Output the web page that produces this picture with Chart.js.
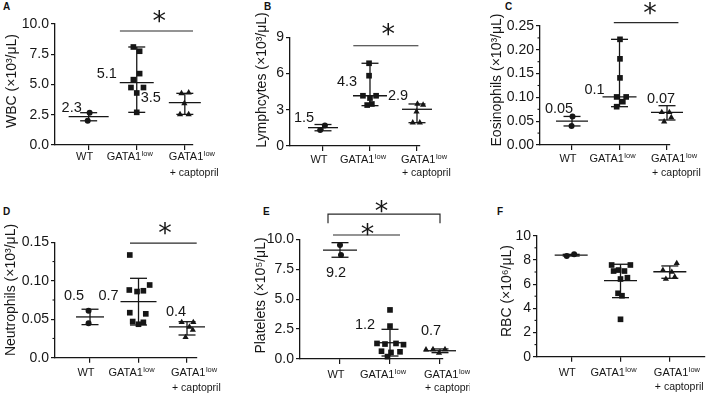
<!DOCTYPE html>
<html><head><meta charset="utf-8">
<script src="https://cdn.jsdelivr.net/npm/chart.js@4.4.1/dist/chart.umd.min.js"></script>
<style>
html,body{margin:0;padding:0;background:#fff}
body{width:709px;height:393px;position:relative;overflow:hidden;font-family:"Liberation Sans",Arial,sans-serif}
.panel{position:absolute}
.panel canvas{display:block}
.letter{position:absolute;font-weight:bold;font-size:10px;line-height:12px;color:#111}
</style></head><body>
<div class="letter" style="left:3px;top:1px">A</div>
<div class="letter" style="left:264px;top:1px">B</div>
<div class="letter" style="left:505px;top:1px">C</div>
<div class="letter" style="left:3px;top:206px">D</div>
<div class="letter" style="left:263px;top:206px">E</div>
<div class="letter" style="left:497px;top:206px">F</div>
<div class="panel" style="left:0px;top:0px"><canvas id="cA" width="235" height="195"></canvas></div>
<div class="panel" style="left:235px;top:0px"><canvas id="cB" width="235" height="195"></canvas></div>
<div class="panel" style="left:470px;top:0px"><canvas id="cC" width="239" height="195"></canvas></div>
<div class="panel" style="left:0px;top:195px"><canvas id="cD" width="235" height="198"></canvas></div>
<div class="panel" style="left:235px;top:195px"><canvas id="cE" width="235" height="198"></canvas></div>
<div class="panel" style="left:470px;top:195px"><canvas id="cF" width="239" height="198"></canvas></div>
<script>
// ---- categories ----
const groupMain  = ['WT', 'GATA1', 'GATA1'];
const groupSup   = ['', 'low', 'low'];
const groupLine2 = ['', '', '+ captopril'];

// ---- A: WBC (x10^3/uL) ----
const wbc       = [[2.67, 2.0], [8.1, 7.75, 5.9, 5.4, 4.75, 4.75, 4.3, 2.7], [4.27, 4.33, 3.44, 2.53, 2.53]];
const wbcJitter = [[0.02, -0.02], [-0.07, 0.06, 0.06, -0.07, -0.12, 0.14, 0, 0], [-0.07, 0.08, -0.01, -0.1, 0.08]];
const wbcMean   = [2.34, 5.15, 3.5];
const wbcLow    = [2.0, 2.7, 2.53];
const wbcHigh   = [2.67, 8.1, 4.27];
const wbcLabels = ['2.3', '5.1', '3.5'];

// ---- B: Lymphocytes ----
const lym       = [[1.69, 1.33], [6.85, 5.82, 4.16, 3.97, 4.16, 3.39, 3.48], [3.48, 3.4, 2.85, 1.93, 1.93]];
const lymJitter = [[0.04, -0.06], [-0.02, -0.02, -0.15, 0, 0.13, -0.06, 0.04], [0.01, 0.13, -0.01, -0.09, 0.06]];
const lymMean   = [1.52, 4.16, 3.04];
const lymLow    = [1.26, 3.34, 1.93];
const lymHigh   = [1.78, 6.85, 3.48];
const lymLabels = ['1.5', '4.3', '2.9'];

// ---- C: Eosinophils ----
const eos       = [[0.060, 0.040], [0.222, 0.181, 0.141, 0.101, 0.101, 0.091, 0.0805], [0.0826, 0.0687, 0.0687, 0.058, 0.049]];
const eosJitter = [[0.01, -0.01], [0.01, 0.01, 0.01, -0.06, 0.14, 0.07, -0.06], [0.16, -0.11, 0.05, 0.09, -0.06]];
const eosMean   = [0.050, 0.101, 0.0687];
const eosLow    = [0.040, 0.0805, 0.0525];
const eosHigh   = [0.060, 0.222, 0.0826];
const eosLabels = ['0.05', '0.1', '0.07'];

// ---- D: Neutrophils ----
const neu       = [[0.0611, 0.0447], [0.1335, 0.0945, 0.088, 0.086, 0.087, 0.0585, 0.057, 0.047, 0.046, 0.0435], [0.046, 0.046, 0.040, 0.036, 0.0265]];
const neuJitter = [[-0.03, -0.03], [-0.18, 0.23, -0.19, -0.03, 0.1, -0.18, 0.15, -0.12, 0.1, 0], [-0.11, 0.13, 0.05, 0.12, -0.03]];
const neuMean   = [0.053, 0.0728, 0.040];
const neuLow    = [0.043, 0.0425, 0.0295];
const neuHigh   = [0.063, 0.1032, 0.0468];
const neuLabels = ['0.5', '0.7', '0.4'];

// ---- E: Platelets (x10^5/uL) ----
const plt       = [[9.53, 8.69], [4.1, 2.75, 1.3, 1.25, 1.3, 1.2, 0.65, 0.55, 0.6, 0.2], [0.78, 0.8, 0.8, 0.78, 0.5]];
const pltJitter = [[0, 0.02], [0, 0, -0.26, -0.1, 0.12, 0.27, -0.17, 0.02, 0.2, -0.05], [-0.28, -0.14, 0.1, 0.26, -0.02]];
const pltMean   = [9.1, 1.36, 0.69];
const pltLow    = [8.5, 0.25, 0.53];
const pltHigh   = [9.72, 2.48, 0.84];
const pltLabels = ['9.2', '1.2', '0.7'];

// ---- F: RBC (x10^6/uL) ----
const rbc       = [[8.32, 8.46], [7.58, 7.58, 7.08, 7.16, 7.08, 6.42, 6.53, 5.24, 5.04, 3.09], [7.72, 7.15, 7.0, 6.42, 6.6]];
const rbcJitter = [[-0.09, 0.06], [-0.18, 0.2, -0.14, -0.04, 0.08, 0, 0.14, -0.05, 0.03, 0], [0.14, -0.14, 0.04, -0.08, 0.1]];
const rbcMean   = [8.39, 6.28, 7.02];
const rbcLow    = [8.32, 4.88, 6.48];
const rbcHigh   = [8.46, 7.64, 7.5];
const rbcLabels = ['', '', ''];

const FONT = '"Liberation Sans", Arial, Helvetica, sans-serif';
const INK = '#161616';

const fmt1 = v => v.toFixed(1);
const fmt0 = v => v.toFixed(0);
const fmt2 = v => v.toFixed(2);
const fmtD = v => v === 0 ? '0.0' : v.toFixed(2);

const panels = [
  {id:'cA', box:{l:0,t:0,w:235,h:195}, area:{l:55,t:24,r:193,b:145},
   title:'WBC (×10³/μL)', titleC:[11.7,81], yMax:10, step:2.5, fmt:fmt1, xMin:0.3, xMax:3.17,
   values:wbc, jitter:wbcJitter, mean:wbcMean, low:wbcLow, high:wbcHigh, labels:wbcLabels,
   labelOff:[[-17,-9],[-30,-9],[-34,-5]], meanHalf:[20,17,16], lab:[12,28], minor:false,
   sig:[{x1:1.65,x2:3.17,y:9.42,sx:2.47,sy:10.74}]},
  {id:'cB', box:{l:235,t:0,w:235,h:195}, area:{l:290,t:37.3,r:420,b:146},
   title:'Lymphcytes (×10³/μL)', titleC:[261.7,80], yMax:9, step:3, fmt:fmt0, xMin:0.298, xMax:3.064,
   values:lym, jitter:lymJitter, mean:lymMean, low:lymLow, high:lymHigh, labels:lymLabels,
   labelOff:[[-19,-10],[-23,-14],[-19,-13]], meanHalf:[15,17,15], lab:[14,27], minor:false,
   sig:[{x1:1.645,x2:3.03,y:8.3,sx:2.39,sy:9.74}]},
  {id:'cC', box:{l:470,t:0,w:239,h:195}, area:{l:540,t:26,r:670,b:145},
   title:'Eosinophils (×10³/μL)', titleC:[497.5,80], yMax:0.25, step:0.05, fmt:fmt2, xMin:0.326, xMax:3.063,
   values:eos, jitter:eosJitter, mean:eosMean, low:eosLow, high:eosHigh, labels:eosLabels,
   labelOff:[[-13,-12],[-25,-7],[-6,-13]], meanHalf:[16,17,16], lab:[14,28], minor:true,
   sig:[{x1:1.88,x2:3.24,y:0.257,sx:2.64,sy:0.29}]},
  {id:'cD', box:{l:0,t:195,w:235,h:198}, area:{l:55,t:242.3,r:197,b:357.7},
   title:'Neutrophils (×10³/μL)', titleC:[11,290], yMax:0.15, step:0.05, fmt:fmtD, xMin:0.278, xMax:3.206,
   values:neu, jitter:neuJitter, mean:neuMean, low:neuLow, high:neuHigh, labels:neuLabels,
   labelOff:[[-16,-21],[-30,-6],[-11,-15]], meanHalf:[14,18,18], lab:[15.5,30], minor:true,
   sig:[{x1:1.824,x2:3.2,y:0.1488,sx:2.546,sy:0.1704}]},
  {id:'cE', box:{l:235,t:195,w:235,h:198}, area:{l:300,t:239.3,r:443,b:359},
   title:'Platelets (×10⁵/μL)', titleC:[261,295.5], yMax:10, step:2.5, fmt:fmt1, xMin:0.2, xMax:3.06,
   values:plt, jitter:pltJitter, mean:pltMean, low:pltLow, high:pltHigh, labels:pltLabels,
   labelOff:[[-4,23],[-25,-18],[-9,-20]], meanHalf:[17,15,16], lab:[16,29], minor:false,
   sig:[{x1:0.76,x2:3.0,y:12.1,drop:11.35,sx:1.83,sy:12.87},{x1:0.86,x2:2.2,y:10.36,sx:1.55,sy:10.97}]},
  {id:'cF', box:{l:470,t:195,w:239,h:198}, area:{l:537,t:235.7,r:709,b:356.7},
   title:'RBC (×10⁶/μL)', titleC:[506.7,291], yMax:10, step:2, fmt:fmt0, xMin:0.307, xMax:3.713,
   values:rbc, jitter:rbcJitter, mean:rbcMean, low:rbcLow, high:rbcHigh, labels:rbcLabels,
   labelOff:[[0,0],[0,0],[0,0]], meanHalf:[16.5,16.5,16.5], lab:[16.5,30], minor:true,
   sig:[]}
];

function seg(ctx, x1, y1, x2, y2) {
  ctx.beginPath(); ctx.moveTo(x1, y1); ctx.lineTo(x2, y2); ctx.stroke();
}

// DejaVu Sans asterisk: glyph centred horizontally in its advance, vertical centre ~0.555 em above baseline
function drawStar(ctx, cx, cy) {
  const size = 27;
  ctx.font = size + 'px "DejaVu Sans", sans-serif';
  ctx.textAlign = 'center';
  ctx.textBaseline = 'alphabetic';
  ctx.fillText('*', cx, cy + 0.555 * size);
}

function makeOverlay(p) {
  return {
    id: 'overlay',
    beforeDatasetsDraw(chart) {
      const ctx = chart.ctx, xs = chart.scales.x, ys = chart.scales.y;
      ctx.save();
      ctx.strokeStyle = INK; ctx.lineWidth = 1.3;
      for (let g = 0; g < 3; g++) {
        const cx = xs.getPixelForValue(g + 1);
        const ym = ys.getPixelForValue(p.mean[g]);
        const yl = ys.getPixelForValue(p.low[g]);
        const yh = ys.getPixelForValue(p.high[g]);
        const mh = p.meanHalf[g], ch = 8.5;
        seg(ctx, cx - mh, ym, cx + mh, ym);
        seg(ctx, cx, yh, cx, yl);
        seg(ctx, cx - ch, yh, cx + ch, yh);
        seg(ctx, cx - ch, yl, cx + ch, yl);
      }
      ctx.restore();
    },
    afterDraw(chart) {
      const ctx = chart.ctx, xs = chart.scales.x, ys = chart.scales.y, ca = chart.chartArea;
      ctx.save();
      ctx.fillStyle = INK; ctx.strokeStyle = INK;
      // minor ticks
      if (p.minor) {
        ctx.lineWidth = 1.1;
        for (let v = p.step / 2; v < p.yMax; v += p.step) {
          const yy = ys.getPixelForValue(v);
          seg(ctx, ca.left - 2.5, yy, ca.left, yy);
        }
      }
      // y title
      ctx.save();
      ctx.translate(p.titleC[0] - p.box.l, p.titleC[1] - p.box.t);
      ctx.rotate(-Math.PI / 2);
      ctx.font = '14px ' + FONT;
      ctx.textAlign = 'center'; ctx.textBaseline = 'middle';
      ctx.fillText(p.title, 0, 0);
      ctx.restore();
      // x category labels
      const dxc = [-4, -7, 0];
      for (let g = 0; g < 3; g++) {
        const cx = xs.getPixelForValue(g + 1);
        ctx.font = '11px ' + FONT;
        const wMain = ctx.measureText(groupMain[g]).width;
        ctx.font = '7.5px ' + FONT;
        const wSup = groupSup[g] ? ctx.measureText(groupSup[g]).width + 0.5 : 0;
        const left = groupLine2[g] ? cx - 16 : cx + dxc[g] - (wMain + wSup) / 2;
        const y1 = ca.bottom + p.lab[0];
        ctx.textAlign = 'left'; ctx.textBaseline = 'middle';
        ctx.font = '11px ' + FONT;
        ctx.fillText(groupMain[g], left, y1);
        if (groupSup[g]) {
          ctx.font = '7.5px ' + FONT;
          ctx.fillText(groupSup[g], left + wMain + 0.5, y1 - 3.5);
        }
        if (groupLine2[g]) {
          ctx.font = '10.5px ' + FONT;
          ctx.fillText(groupLine2[g], left + 1, ca.bottom + p.lab[1]);
        }
      }
      // value labels
      ctx.font = '14.5px ' + FONT;
      ctx.textAlign = 'center'; ctx.textBaseline = 'middle';
      for (let g = 0; g < 3; g++) {
        if (!p.labels[g]) continue;
        const cx = xs.getPixelForValue(g + 1) + p.labelOff[g][0];
        const cy = ys.getPixelForValue(p.mean[g]) + p.labelOff[g][1];
        ctx.fillText(p.labels[g], cx, cy);
      }
      // significance
      ctx.lineWidth = 1.2; ctx.strokeStyle = '#2a2a2a';
      for (const s of p.sig) {
        const x1 = xs.getPixelForValue(s.x1), x2 = xs.getPixelForValue(s.x2);
        const yy = ys.getPixelForValue(s.y);
        ctx.beginPath();
        if (s.drop !== undefined) {
          const yd = ys.getPixelForValue(s.drop);
          ctx.moveTo(x1, yd); ctx.lineTo(x1, yy); ctx.lineTo(x2, yy); ctx.lineTo(x2, yd);
        } else {
          ctx.moveTo(x1, yy); ctx.lineTo(x2, yy);
        }
        ctx.stroke();
        drawStar(ctx, xs.getPixelForValue(s.sx), ys.getPixelForValue(s.sy));
      }
      ctx.restore();
    }
  };
}

const styles = ['circle', 'rect', 'triangle'];
const radii = [3, 4, 3.6];

for (const p of panels) {
  const padTop = p.area.t - p.box.t;
  const padRight = p.box.l + p.box.w - p.area.r;
  const yWidth = p.area.l - p.box.l;
  const xHeight = p.box.t + p.box.h - p.area.b;
  new Chart(document.getElementById(p.id), {
    type: 'scatter',
    data: {
      datasets: p.values.map((vals, g) => ({
        data: vals.map((v, i) => ({x: g + 1 + p.jitter[g][i], y: v})),
        pointStyle: styles[g],
        pointRadius: radii[g],
        backgroundColor: INK,
        borderColor: INK,
        borderWidth: 0,
        clip: false
      }))
    },
    options: {
      responsive: false,
      animation: false,
      events: [],
      layout: {padding: {top: padTop, right: padRight, bottom: 0, left: 0}},
      plugins: {legend: {display: false}, tooltip: {enabled: false}},
      scales: {
        x: {
          type: 'linear', min: p.xMin, max: p.xMax,
          afterBuildTicks: s => { s.ticks = [1, 2, 3].map(v => ({value: v})); },
          ticks: {display: false},
          grid: {display: true, drawOnChartArea: false, drawTicks: true, tickLength: 5, color: INK, lineWidth: 1.2},
          border: {display: true, color: INK, width: 1.3},
          afterFit: s => { s.height = xHeight; }
        },
        y: {
          type: 'linear', min: 0, max: p.yMax,
          ticks: {stepSize: p.step, callback: v => p.fmt(v), font: {family: FONT, size: 14}, color: INK, padding: 2},
          grid: {display: true, drawOnChartArea: false, drawTicks: true, tickLength: 4, color: INK, lineWidth: 1.2},
          border: {display: true, color: INK, width: 1.3},
          afterFit: s => { s.width = yWidth; }
        }
      }
    },
    plugins: [makeOverlay(p)]
  });
}
</script>
</body></html>
